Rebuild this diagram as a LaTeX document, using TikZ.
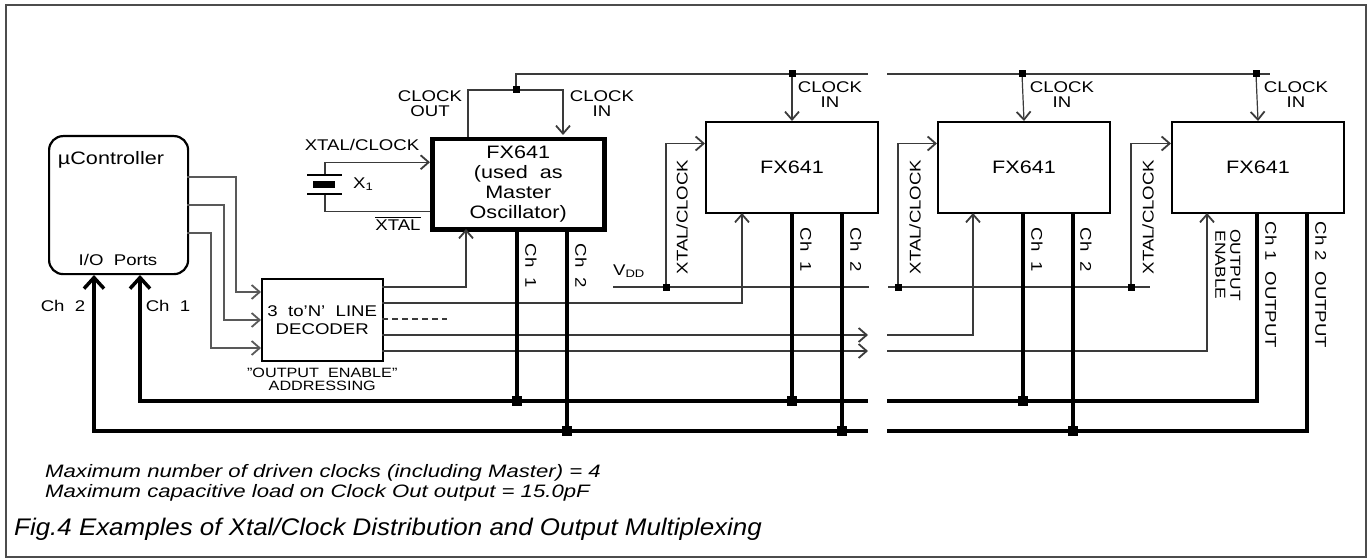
\documentclass[tikz,border=0pt]{standalone}
\usepackage{fontspec}
\setmainfont[FakeStretch=1.2]{Liberation Sans}
\newfontfamily\notefont[FakeStretch=1.23]{Liberation Sans}
\newfontfamily\capfont[FakeStretch=1.08]{Liberation Sans}
\usetikzlibrary{arrows.meta,positioning}
\definecolor{wire}{HTML}{3A3A3A}

\newcommand{\barxtal}{\setbox0\hbox{XTAL}\rlap{\rule[\dimexpr\ht0+1.5pt\relax]{\wd0}{1.1pt}}XTAL}

\tikzset{
  chip/.style={draw, line width=2pt, anchor=north west, minimum width=172pt, minimum height=91pt, inner sep=0pt, align=center, font=\fontsize{18}{20}\selectfont},
  lbl/.style={inner sep=0pt, align=center, font=\fontsize{15.5}{15}\selectfont},
  wire/.style={draw=wire, line width=1.2pt},
  tip/.style={-{Straight Barb[length=8pt,width=14pt,line width=1.8pt]}},
  bus/.style={line width=4pt},
  tipb/.style={-{Straight Barb[length=11pt,width=20pt,line width=3.5pt]}},
  jdot/.style={fill, rectangle, minimum size=7pt, inner sep=0pt},
  bdot/.style={fill, rectangle, minimum size=10pt, inner sep=0pt},
}

\begin{document}
\begin{tikzpicture}[x=1pt, y=-1pt]
  \useasboundingbox (0,0) rectangle (1370,559);
  \draw[line width=1.5pt, black!70] (6,5) rectangle (1366,557);

  % Define nodes
  \node[draw, line width=2.2pt, rounded corners=14pt, anchor=north west, minimum width=139pt, minimum height=138pt] (uC) at (48,135) {};
  \node[lbl, font=\fontsize{18}{20}\selectfont] (uCname) at (111,160) {µController};
  \node[lbl] (ports) at (118,260) {I/O\ \ Ports};
  \node[draw, line width=1.5pt, anchor=north west, minimum width=121pt, minimum height=82pt, inner sep=0pt, align=center, font=\fontsize{15.5}{18}\selectfont] (dec) at (261,278) {3\ \ to'N'\ \ LINE\\DECODER};
  \node[lbl, font=\fontsize{13.5}{13}\selectfont, below=6pt of dec] (addr) {"OUTPUT\ \ ENABLE"\\ADDRESSING};

  \node[chip, line width=4.5pt, minimum height=90pt] (M) at (430,137) {FX641\\(used\ \ as\\Master\\Oscillator)};
  \node[chip] (F2) at (705,121) {FX641};
  \node[chip] (F3) at (937,121) {FX641};
  \node[chip] (F4) at (1171,121) {FX641};

  % Ports and junctions
  \coordinate (o1) at (187,177); \coordinate (o2) at (187,205); \coordinate (o3) at (187,233);
  \coordinate (d1) at (261,292); \coordinate (d2) at (261,320); \coordinate (d3) at (261,348);
  \coordinate (q1) at (382,287); \coordinate (q2) at (382,303); \coordinate (qd) at (382,319);
  \coordinate (q3) at (382,335); \coordinate (q4) at (382,351); \coordinate (qdend) at (447,319);
  \coordinate (g3) at (868,335); \coordinate (g4) at (868,351);
  \coordinate (h3) at (887,335); \coordinate (h4) at (887,351);
  \coordinate (en1) at (466,229); \coordinate (en2) at (742,213);
  \coordinate (en3) at (973,213); \coordinate (en4) at (1207,213);
  \coordinate (cko) at (468,137); \coordinate (cki) at (563,135); \coordinate (j0) at (516,90);
  \coordinate (ck1) at (868,74); \coordinate (ck2) at (887,74); \coordinate (ck3) at (1270,74);
  \coordinate (j2) at (792,74); \coordinate (j3) at (1022,74); \coordinate (j4) at (1256,74);
  \coordinate (xt) at (325,175); \coordinate (xb) at (325,194);
  \coordinate (v1) at (613,287); \coordinate (v1e) at (869,287);
  \coordinate (v2) at (888,287); \coordinate (v2e) at (1150,287);
  \coordinate (x2) at (666,287); \coordinate (x3) at (898,287); \coordinate (x4) at (1131,287);
  \coordinate (p1) at (140,275); \coordinate (p2) at (94,275);
  \coordinate (b1a) at (868,401); \coordinate (b1b) at (887,401);
  \coordinate (b2a) at (868,431); \coordinate (b2b) at (887,431);
  \coordinate (s1m) at (517,401); \coordinate (s2m) at (567,431);
  \coordinate (s12) at (792,401); \coordinate (s22) at (842,431);
  \coordinate (s13) at (1023,401); \coordinate (s23) at (1073,431);
  \coordinate (c14) at (1257,212); \coordinate (c24) at (1307,212);

  % Connect the nodes
  \draw[wire, black!65, tip] (o1) -- ++(49,0) |- (d1);
  \draw[wire, black!65, tip] (o2) -- ++(37,0) |- (d2);
  \draw[wire, black!65, tip] (o3) -- ++(24,0) |- (d3);
  \draw[wire, tip] (q1) -| (en1);
  \draw[wire, tip] (q2) -| (en2);
  \draw[wire, dash pattern=on 6pt off 4pt] (qd) -- (qdend);
  \draw[wire, tip] (q3) -- (g3);
  \draw[wire, tip] (q4) -- (g4);
  \draw[wire, tip] (h3) -| (en3);
  \draw[wire, tip] (h4) -| (en4);

  \draw[wire, tip] (cko) |- (j0) -| (cki);
  \draw[wire] (j0) |- (ck1);
  \draw[wire] (ck2) -- (ck3);
  \draw[wire, tip] (j2) -- (F2.north);
  \draw[wire, tip] (j3) -- (F3.north);
  \draw[wire, tip] (j4) -- (F4.north);

  \draw[wire, tip] (xt) |- ([yshift=22pt]M.west);
  \draw[wire] (xb) |- ([yshift=-27pt]M.west);
  \draw[line width=2pt] (307,175) -- (342,175);
  \fill (313,181) rectangle (335,188);
  \draw[line width=2pt] (307,194) -- (342,194);

  \draw[wire] (v1) -- (v1e);
  \draw[wire] (v2) -- (v2e);
  \draw[wire, tip] (x2) |- ([yshift=24pt]F2.west);
  \draw[wire, tip] (x3) |- ([yshift=24pt]F3.west);
  \draw[wire, tip] (x4) |- ([yshift=24pt]F4.west);

  \draw[bus] (s1m |- M.south) -- (s1m);
  \draw[bus] (s2m |- M.south) -- (s2m);
  \draw[bus] (s12 |- F2.south) -- (s12);
  \draw[bus] (s22 |- F2.south) -- (s22);
  \draw[bus] (s13 |- F3.south) -- (s13);
  \draw[bus] (s23 |- F3.south) -- (s23);
  \draw[bus, tipb] (b1a) -| (p1);
  \draw[bus, tipb] (b2a) -| (p2);
  \draw[bus] (b1b) -| (c14);
  \draw[bus] (b2b) -| (c24);

  \foreach \j in {j0,j2,j3,j4,x2,x3,x4} \node[jdot] (dot\j) at (\j) {};
  \foreach \j in {s1m,s2m,s12,s22,s13,s23} \node[bdot] (dot\j) at (\j) {};

  % Labels
  \node[lbl] (lco) at (430,104) {CLOCK\\OUT};
  \node[lbl] (lci0) at (602,104) {CLOCK\\IN};
  \node[lbl] (lci2) at (830,95) {CLOCK\\IN};
  \node[lbl] (lci3) at (1062,95) {CLOCK\\IN};
  \node[lbl] (lci4) at (1296,95) {CLOCK\\IN};
  \node[lbl] (lxc) at (362,145) {XTAL/CLOCK};
  \node[lbl, anchor=west] (lx1) at (353,184) {X\textsubscript{1}};
  \node[lbl] (lxb) at (398,224) {\barxtal};
  \node[lbl] (lvdd) at (629,271) {V\textsubscript{DD}};
  \node[lbl, rotate=90] (lxr2) at (682,217) {XTAL/CLOCK};
  \node[lbl, rotate=90] (lxr3) at (915,217) {XTAL/CLOCK};
  \node[lbl, rotate=90] (lxr4) at (1148,217) {XTAL/CLOCK};
  \node[lbl, rotate=-90] (l1m) at (531,266) {Ch\ \ 1};
  \node[lbl, rotate=-90] (l2m) at (581,266) {Ch\ \ 2};
  \node[lbl, rotate=-90] (l12) at (806,250) {Ch\ \ 1};
  \node[lbl, rotate=-90] (l22) at (856,250) {Ch\ \ 2};
  \node[lbl, rotate=-90] (l13) at (1037,250) {Ch\ \ 1};
  \node[lbl, rotate=-90] (l23) at (1086,250) {Ch\ \ 2};
  \node[lbl, rotate=-90] (l14) at (1271,285) {Ch\ 1\ \ OUTPUT};
  \node[lbl, rotate=-90] (l24) at (1321,285) {Ch\ 2\ \ OUTPUT};
  \node[lbl, rotate=-90, font=\fontsize{14.5}{15}\selectfont] (loe) at (1228,265) {OUTPUT\\ENABLE};
  \node[lbl] (lch2) at (63,306) {Ch\ \ 2};
  \node[lbl] (lch1) at (168,306) {Ch\ \ 1};

  \node[anchor=west, inner sep=0pt, font=\notefont\itshape\fontsize{18}{20}\selectfont] (note1) at (45,473) {Maximum number of driven clocks (including Master) = 4};
  \node[anchor=west, inner sep=0pt, font=\notefont\itshape\fontsize{18}{20}\selectfont] (note2) at (45,493) {Maximum capacitive load on Clock Out output = 15.0pF};
  \node[anchor=west, inner sep=0pt, font=\capfont\itshape\fontsize{24}{26}\selectfont] (caption) at (14,529) {Fig.4 Examples of Xtal/Clock Distribution and Output Multiplexing};
\end{tikzpicture}
\end{document}
